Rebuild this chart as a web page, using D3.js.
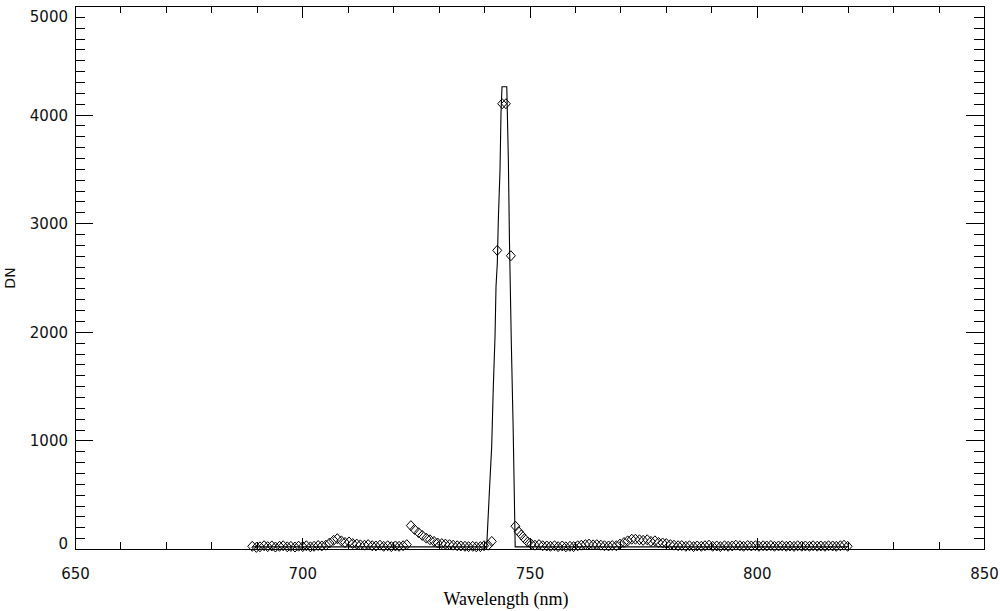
<!DOCTYPE html>
<html>
<head>
<meta charset="utf-8">
<script src="https://cdn.jsdelivr.net/npm/d3@7"></script>
<style>
  html, body { margin: 0; padding: 0; background: #fff; }
  svg { display: block; }
</style>
</head>
<body>
<svg id="chart" width="1000" height="611"></svg>
<script>
// ---- data ----
const wavelength = [
  689.0, 689.9, 690.7, 691.6, 692.4, 693.3, 694.1, 695.0, 695.8, 696.7,
  697.5, 698.4, 699.2, 700.1, 700.9, 701.8, 702.6, 703.5, 704.3, 705.2,
  706.0, 706.9, 707.7, 708.6, 709.4, 710.3, 711.1, 712.0, 712.8, 713.7,
  714.5, 715.4, 716.2, 717.1, 717.9, 718.8, 719.6, 720.5, 721.3, 722.2,
  723.0, 723.9, 724.7, 725.6, 726.4, 727.3, 728.1, 729.0, 729.8, 730.7,
  731.5, 732.4, 733.2, 734.1, 734.9, 735.8, 736.6, 737.5, 738.3, 739.2,
  740.0, 740.9, 741.7, 742.9, 744.0, 744.8, 745.9, 746.9, 747.6, 748.2,
  748.9, 749.6, 750.4, 751.2, 752.1, 752.9, 753.8, 754.6, 755.5, 756.3,
  757.2, 758.0, 758.9, 759.7, 760.6, 761.4, 762.3, 763.1, 764.0, 764.8,
  765.7, 766.5, 767.4, 768.2, 769.1, 769.9, 770.8, 771.6, 772.5, 773.3,
  774.2, 775.0, 775.9, 776.7, 777.6, 778.4, 779.3, 780.1, 781.0, 781.8,
  782.7, 783.5, 784.4, 785.2, 786.1, 786.9, 787.8, 788.6, 789.5, 790.3,
  791.2, 792.0, 792.9, 793.7, 794.6, 795.4, 796.3, 797.1, 798.0, 798.8,
  799.7, 800.5, 801.4, 802.2, 803.1, 803.9, 804.8, 805.6, 806.5, 807.3,
  808.2, 809.0, 809.9, 810.7, 811.6, 812.4, 813.3, 814.1, 815.0, 815.8,
  816.7, 817.5, 818.4, 819.2, 820.0
];
const dn = [
  25, 15, 20, 30, 22, 28, 18, 25, 30, 20,
  24, 18, 26, 22, 30, 20, 25, 32, 28, 35,
  55, 80, 95, 75, 60, 65, 50, 45, 38, 35,
  40, 30, 28, 35, 25, 30, 22, 28, 25, 30,
  40, 215, 180, 150, 125, 100, 85, 70, 55, 50,
  45, 40, 35, 30, 28, 25, 22, 25, 20, 22,
  30, 35, 70, 2750, 4100, 4100, 2700, 210, 160, 130,
  95, 65, 45, 35, 40, 30, 28, 25, 30, 22,
  28, 20, 25, 22, 30, 35, 40, 45, 38, 40,
  35, 30, 28, 32, 30, 45, 60, 75, 90, 90,
  85, 80, 85, 70, 75, 60, 55, 50, 40, 35,
  30, 32, 25, 30, 22, 28, 25, 30, 35, 25,
  28, 22, 30, 25, 28, 35, 30, 25, 32, 28,
  30, 25, 30, 28, 32, 25, 28, 30, 25, 28,
  24, 30, 26, 28, 25, 30, 26, 28, 25, 30,
  28, 25, 30, 35, 25
];
// fitted profile line
const fitWl = [689.0, 740.58, 741.16, 741.68, 742.03, 742.41, 742.63, 742.92, 743.14, 743.51,
               743.73, 743.95, 745.0, 745.35, 745.6, 746.0, 746.4, 746.65, 746.85, 820.0];
const fitDN = [20, 20, 516, 942, 1482, 1955, 2415, 2633, 3029, 3490,
               4015, 4257, 4257, 3582, 2818, 1897, 1123, 516, 20, 20];

const xMajorTicks = [650, 700, 750, 800, 850];
const yMajorTicks = [0, 1000, 2000, 3000, 4000, 5000];
const xTitle = "Wavelength (nm)";
const yTitle = "DN";

// ---- layout ----
const svg = d3.select("#chart");
const L = 75, R = 984, T = 6, B = 549;

const x = d3.scaleLinear().domain([650, 850]).range([L, R]);
const y = d3.scaleLinear().domain([0, 5000]).range([B, T]);

const xMinor = d3.range(650, 851, 10).filter(v => v % 50 !== 0);
const yMinor = d3.range(0, 5001, 100).filter(v => v % 1000 !== 0);

const tickFont = "'DejaVu Sans', sans-serif";

function styleAxis(g) {
  g.select(".domain").remove();
  g.selectAll("line").attr("stroke", "#000").attr("stroke-width", 1).attr("shape-rendering", "crispEdges");
  g.selectAll("text").attr("fill", "#111").style("font-family", tickFont).style("font-size", "15px");
}

// bottom axis (labels)
const gB = svg.append("g").attr("transform", `translate(0,${B})`)
  .call(d3.axisBottom(x).tickValues(xMajorTicks).tickSizeInner(-11.5).tickSizeOuter(0).tickPadding(18)
        .tickFormat(d3.format("d")));
styleAxis(gB);
gB.selectAll("text").attr("dy", null).attr("y", 29.5);
svg.append("g").attr("transform", `translate(0,${B})`)
  .call(d3.axisBottom(x).tickValues(xMinor).tickSizeInner(-7).tickSizeOuter(0).tickFormat(""))
  .call(styleAxis);

// top axis
svg.append("g").attr("transform", `translate(0,${T})`)
  .call(d3.axisTop(x).tickValues(xMajorTicks).tickSizeInner(-11.5).tickSizeOuter(0).tickFormat(""))
  .call(styleAxis);
svg.append("g").attr("transform", `translate(0,${T})`)
  .call(d3.axisTop(x).tickValues(xMinor).tickSizeInner(-7).tickSizeOuter(0).tickFormat(""))
  .call(styleAxis);

// left axis (labels)
const gL = svg.append("g").attr("transform", `translate(${L},0)`)
  .call(d3.axisLeft(y).tickValues(yMajorTicks).tickSizeInner(-18).tickSizeOuter(0).tickPadding(7)
        .tickFormat(d3.format("d")));
styleAxis(gL);
gL.selectAll("text").attr("dy", null).attr("y", d => d === 5000 ? 15 : (d === 0 ? -0.5 : 5.5));
svg.append("g").attr("transform", `translate(${L},0)`)
  .call(d3.axisLeft(y).tickValues(yMinor).tickSizeInner(-10).tickSizeOuter(0).tickFormat(""))
  .call(styleAxis);

// right axis
svg.append("g").attr("transform", `translate(${R},0)`)
  .call(d3.axisRight(y).tickValues(yMajorTicks).tickSizeInner(-18).tickSizeOuter(0).tickFormat(""))
  .call(styleAxis);
svg.append("g").attr("transform", `translate(${R},0)`)
  .call(d3.axisRight(y).tickValues(yMinor).tickSizeInner(-10).tickSizeOuter(0).tickFormat(""))
  .call(styleAxis);

// frame
svg.append("rect")
  .attr("x", x(650)).attr("y", y(5000))
  .attr("width", x(850) - x(650)).attr("height", y(0) - y(5000))
  .attr("fill", "none").attr("stroke", "#000").attr("stroke-width", 1)
  .attr("shape-rendering", "crispEdges");

// fitted line
const fitPts = fitWl.map((w, i) => [w, fitDN[i]]);
svg.append("path")
  .datum(fitPts)
  .attr("d", d3.line().x(d => x(d[0])).y(d => y(d[1])))
  .attr("fill", "none").attr("stroke", "#000").attr("stroke-width", 1.1);

// data diamonds
const pts = wavelength.map((w, i) => [w, dn[i]]);
svg.append("g").selectAll("path")
  .data(pts)
  .join("path")
  .attr("transform", d => `translate(${x(d[0])},${y(d[1])})`)
  .attr("d", "M0,-5L4.5,0L0,5L-4.5,0Z")
  .attr("fill", "none").attr("stroke", "#000").attr("stroke-width", 1);

// axis titles
svg.append("text")
  .attr("x", 506).attr("y", 605)
  .attr("text-anchor", "middle")
  .style("font-family", "'Liberation Serif', 'Times New Roman', serif")
  .style("font-size", "18px")
  .attr("fill", "#000")
  .text(xTitle);

svg.append("text")
  .attr("transform", "translate(15,278) rotate(-90)")
  .attr("text-anchor", "middle")
  .style("font-family", tickFont)
  .style("font-size", "14px")
  .attr("fill", "#111")
  .text(yTitle);
</script>
</body>
</html>
